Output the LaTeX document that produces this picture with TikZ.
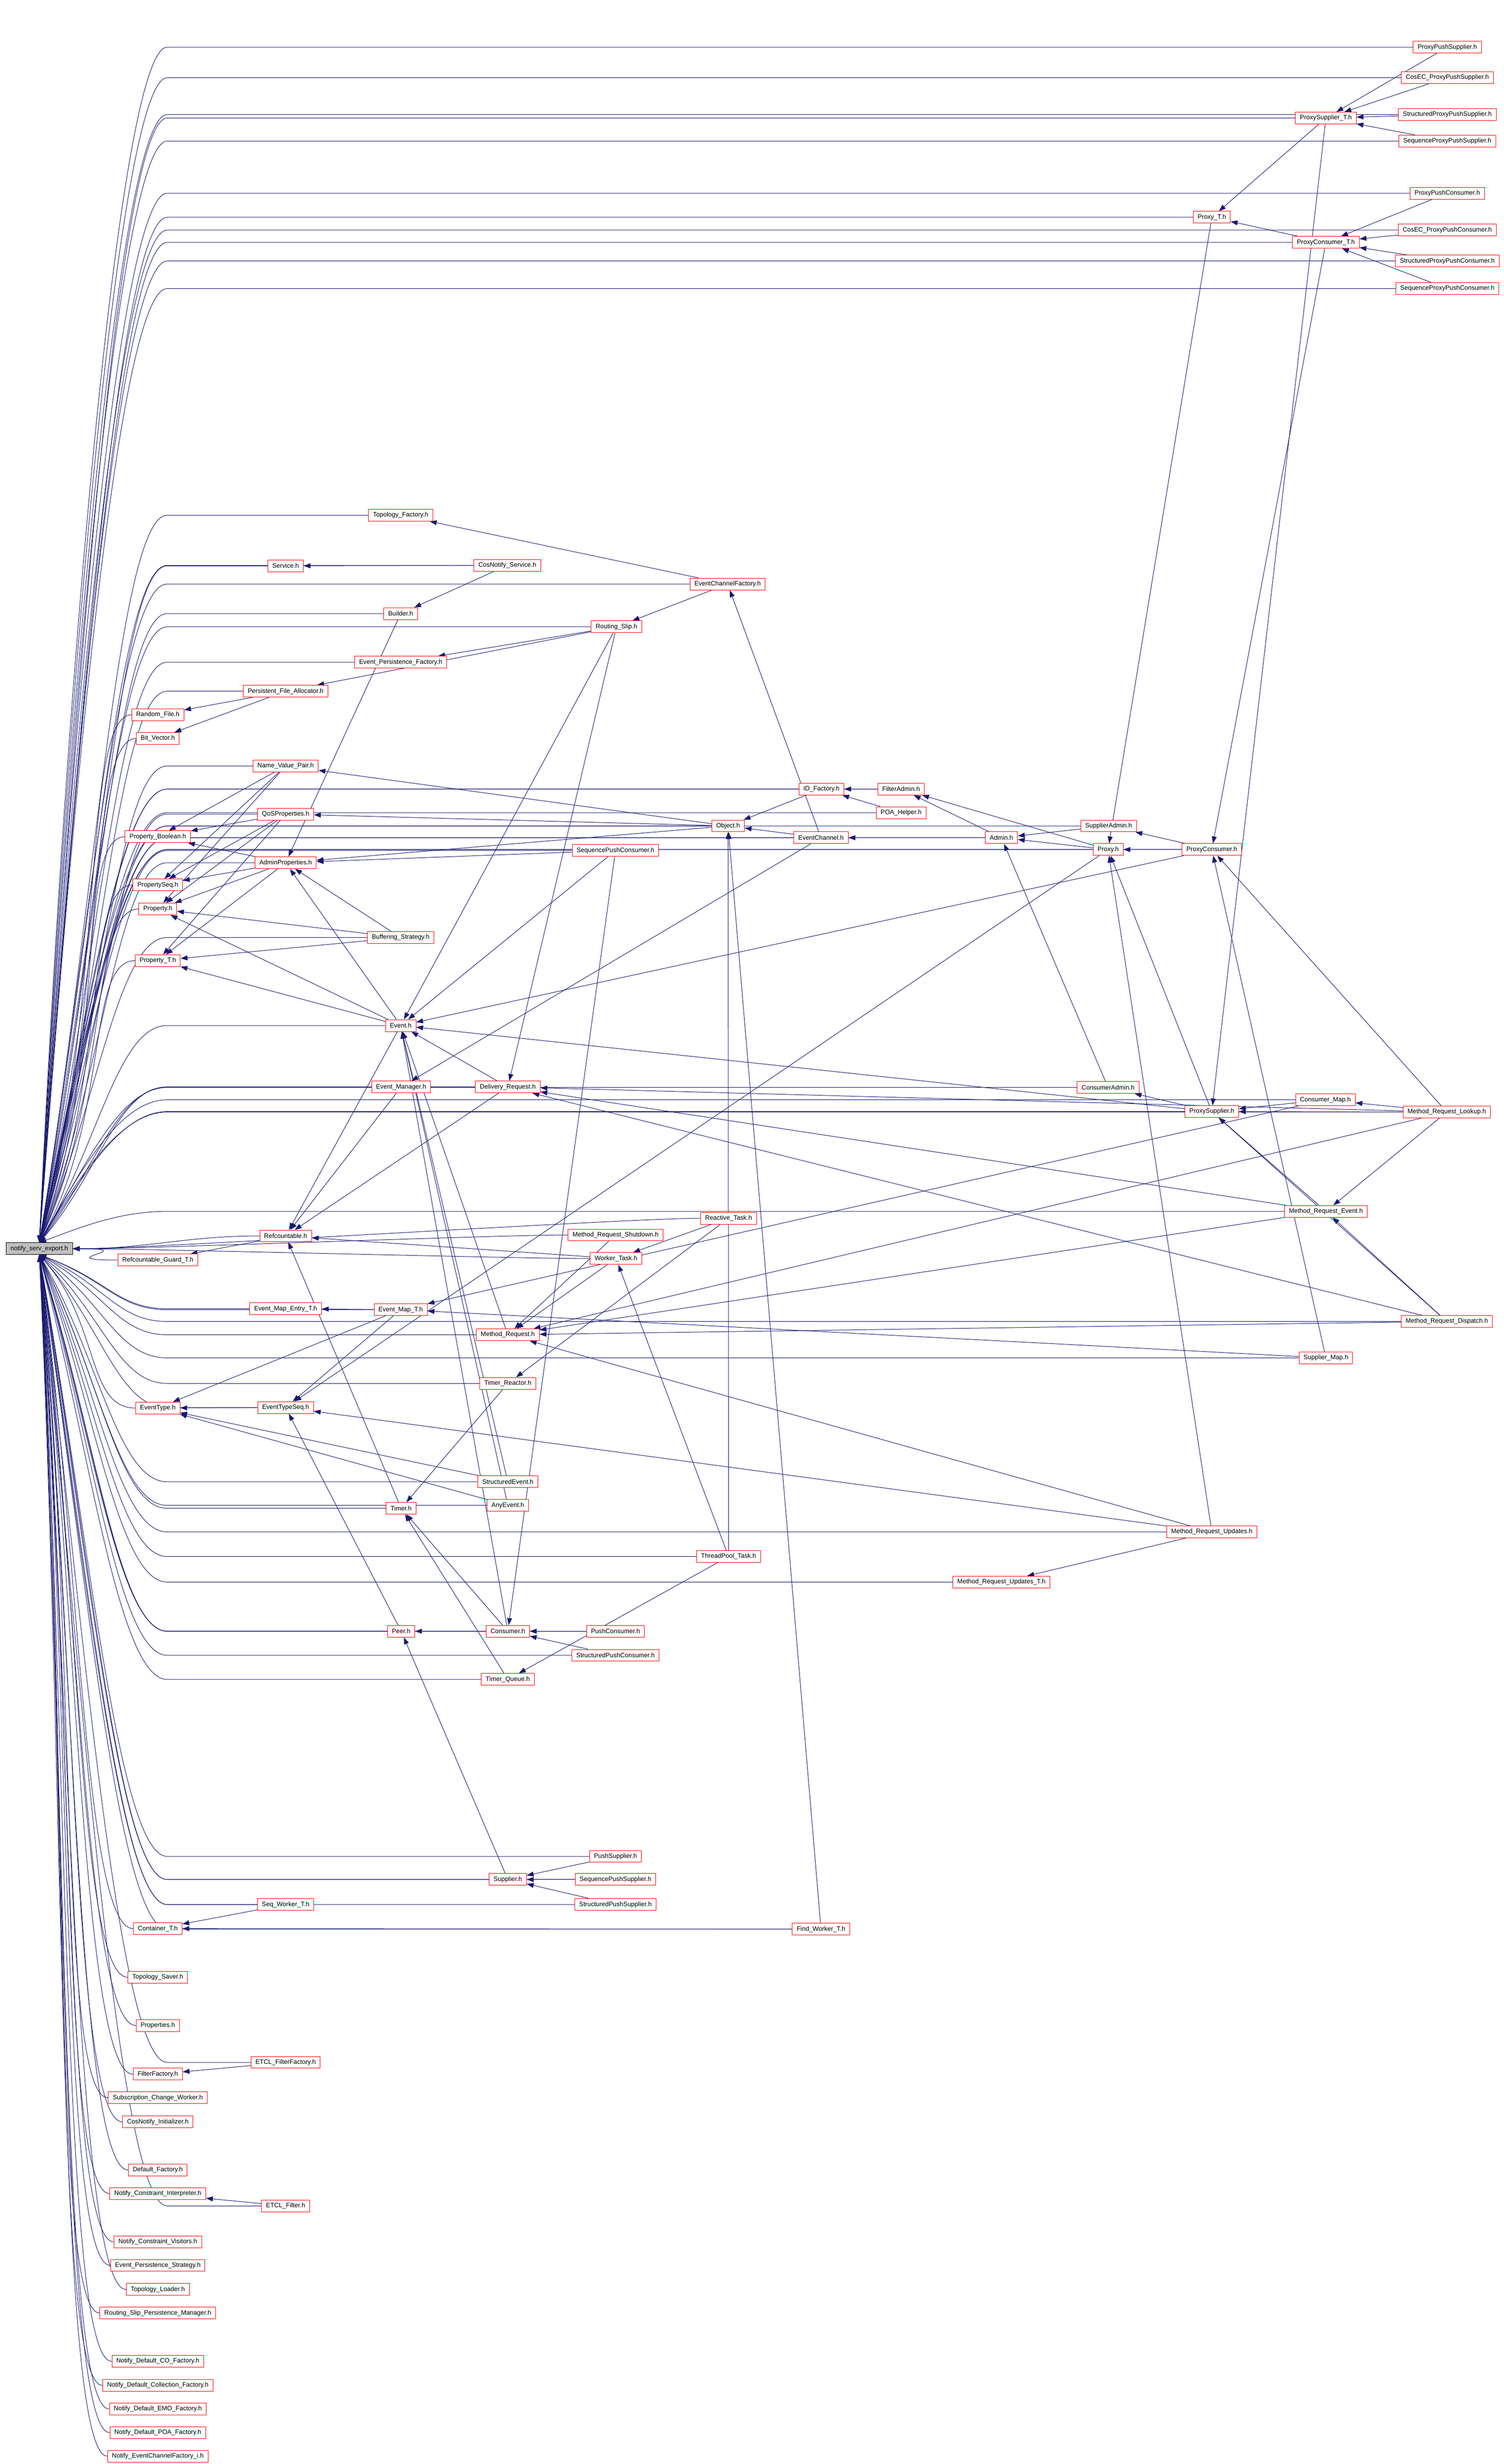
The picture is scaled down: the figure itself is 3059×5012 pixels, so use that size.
\documentclass[tikz,border=0pt]{standalone}
\usepackage{fontspec}
\setmainfont{Liberation Sans}
\usepackage{tikz}
\usetikzlibrary{arrows.meta,calc}
\definecolor{edgeblue}{RGB}{25,25,112}
\definecolor{boxred}{RGB}{255,0,0}
\definecolor{rootgray}{RGB}{191,191,191}
\pgfdeclarelayer{background}
\pgfsetlayers{background,main}
\tikzstyle{hfile} = [
    rectangle,
    draw=boxred,
    fill=white,
    line width=1pt,
    inner xsep=9pt,
    inner ysep=0pt,
    minimum height=24pt,
    font=\fontsize{13}{15}\selectfont
]
\tikzstyle{rootfile} = [
    hfile,
    draw=black,
    fill=rootgray
]
\tikzstyle{dep} = [
    draw=edgeblue,
    line width=1pt,
    -{Triangle[length=14pt,width=10pt]}
]

\begin{document}
\begin{tikzpicture}[x=1pt,y=-1pt]
    \useasboundingbox (0,0) rectangle (3059,5012);
    \node[rootfile] (root) at (80,2540) {notify\_serv\_export.h};

    % right column
    \node[hfile] (pps) at (2944,96) {ProxyPushSupplier.h};
    \node[hfile] (cpps) at (2944,158) {CosEC\_ProxyPushSupplier.h};
    \node[hfile] (spps) at (2944,233) {StructuredProxyPushSupplier.h};
    \node[hfile] (qpps) at (2944,287) {SequenceProxyPushSupplier.h};
    \node[hfile] (ppc) at (2944,393) {ProxyPushConsumer.h};
    \node[hfile] (cppc) at (2944,468) {CosEC\_ProxyPushConsumer.h};
    \node[hfile] (sppc) at (2944,531) {StructuredProxyPushConsumer.h};
    \node[hfile] (qppc) at (2944,587) {SequenceProxyPushConsumer.h};
    \node[hfile] (mrl) at (2943,2262) {Method\_Request\_Lookup.h};
    \node[hfile] (mrd) at (2943,2688) {Method\_Request\_Dispatch.h};

    \node[hfile] (pst) at (2697,240) {ProxySupplier\_T.h};
    \node[hfile] (pct) at (2697,493) {ProxyConsumer\_T.h};
    \node[hfile] (cmap) at (2696,2237) {Consumer\_Map.h};
    \node[hfile] (mre) at (2697,2464) {Method\_Request\_Event.h};
    \node[hfile] (smap) at (2697,2762) {Supplier\_Map.h};

    \node[hfile] (ptt) at (2465,442) {Proxy\_T.h};
    \node[hfile] (pcons) at (2465,1728) {ProxyConsumer.h};
    \node[hfile] (psup) at (2465,2261) {ProxySupplier.h};
    \node[hfile] (mru) at (2465,3116) {Method\_Request\_Updates.h};

    \node[hfile] (sadm) at (2255,1680) {SupplierAdmin.h};
    \node[hfile] (proxy) at (2254,1728) {Proxy.h};
    \node[hfile] (cadm) at (2254,2212) {ConsumerAdmin.h};

    \node[hfile] (admin) at (2037,1704) {Admin.h};
    \node[hfile] (mrut) at (2037,3218) {Method\_Request\_Updates\_T.h};

    \node[hfile] (fadm) at (1833,1605) {FilterAdmin.h};
    \node[hfile] (poa) at (1833,1653) {POA\_Helper.h};

    \node[hfile] (idf) at (1671,1605) {ID\_Factory.h};
    \node[hfile] (ech) at (1670,1704) {EventChannel.h};
    \node[hfile] (fwt) at (1670,3924) {Find\_Worker\_T.h};

    % middle columns
    \node[hfile] (ecf) at (1480,1188) {EventChannelFactory.h};
    \node[hfile] (obj) at (1481,1680) {Object.h};
    \node[hfile] (rtask) at (1482,2478) {Reactive\_Task.h};
    \node[hfile] (tpt) at (1482,3166) {ThreadPool\_Task.h};

    \node[hfile] (rslip) at (1254,1275) {Routing\_Slip.h};
    \node[hfile] (spc) at (1252,1730) {SequencePushConsumer.h};
    \node[hfile] (mrs) at (1252,2512) {Method\_Request\_Shutdown.h};
    \node[hfile] (wtask) at (1253,2560) {Worker\_Task.h};
    \node[hfile] (pushc) at (1252,3318) {PushConsumer.h};
    \node[hfile] (stpc) at (1252,3367) {StructuredPushConsumer.h};
    \node[hfile] (pushs) at (1252,3776) {PushSupplier.h};
    \node[hfile] (sqps) at (1252,3823) {SequencePushSupplier.h};
    \node[hfile] (stps) at (1252,3874) {StructuredPushSupplier.h};

    \node[hfile] (cns) at (1032,1150) {CosNotify\_Service.h};
    \node[hfile] (dreq) at (1033,2211) {Delivery\_Request.h};
    \node[hfile] (mreq) at (1033,2715) {Method\_Request.h};
    \node[hfile] (treac) at (1033,2814) {Timer\_Reactor.h};
    \node[hfile] (sev) at (1033,3014) {StructuredEvent.h};
    \node[hfile] (aev) at (1033,3062) {AnyEvent.h};
    \node[hfile] (cons) at (1033,3318) {Consumer.h};
    \node[hfile] (tq) at (1033,3416) {Timer\_Queue.h};
    \node[hfile] (supp) at (1033,3823) {Supplier.h};

    \node[hfile] (topf) at (815,1048) {Topology\_Factory.h};
    \node[hfile] (bld) at (815,1248) {Builder.h};
    \node[hfile] (epf) at (815,1347) {Event\_Persistence\_Factory.h};
    \node[hfile] (bstr) at (815,1907) {Buffering\_Strategy.h};
    \node[hfile] (event) at (815,2086) {Event.h};
    \node[hfile] (emgr) at (816,2211) {Event\_Manager.h};
    \node[hfile] (emap) at (815,2664) {Event\_Map\_T.h};
    \node[hfile] (timer) at (816,3068) {Timer.h};
    \node[hfile] (peer) at (816,3318) {Peer.h};

    \node[hfile] (serv) at (581,1151) {Service.h};
    \node[hfile] (pfa) at (581,1406) {Persistent\_File\_Allocator.h};
    \node[hfile] (nvp) at (581,1558) {Name\_Value\_Pair.h};
    \node[hfile] (qos) at (581,1656) {QoSProperties.h};
    \node[hfile] (aprop) at (581,1755) {AdminProperties.h};
    \node[hfile] (refc) at (581,2514) {Refcountable.h};
    \node[hfile] (emape) at (581,2662) {Event\_Map\_Entry\_T.h};
    \node[hfile] (etseq) at (581,2863) {EventTypeSeq.h};
    \node[hfile] (swt) at (581,3874) {Seq\_Worker\_T.h};
    \node[hfile] (etclff) at (581,4195) {ETCL\_FilterFactory.h};
    \node[hfile] (etclf) at (581,4487) {ETCL\_Filter.h};

    % left column
    \node[hfile] (rfile) at (321,1454) {Random\_File.h};
    \node[hfile] (bvec) at (321,1502) {Bit\_Vector.h};
    \node[hfile] (pbool) at (321,1702) {Property\_Boolean.h};
    \node[hfile] (pseq) at (321,1800) {PropertySeq.h};
    \node[hfile] (prop) at (321,1849) {Property.h};
    \node[hfile] (propt) at (321,1954) {Property\_T.h};
    \node[hfile] (rguard) at (321,2563) {Refcountable\_Guard\_T.h};
    \node[hfile] (etype) at (321,2864) {EventType.h};
    \node[hfile] (cont) at (321,3923) {Container\_T.h};
    \node[hfile] (tsav) at (321,4022) {Topology\_Saver.h};
    \node[hfile] (props) at (321,4120) {Properties.h};
    \node[hfile] (ffac) at (321,4219) {FilterFactory.h};
    \node[hfile] (scw) at (321,4267) {Subscription\_Change\_Worker.h};
    \node[hfile] (cni) at (321,4316) {CosNotify\_Initializer.h};
    \node[hfile] (dfac) at (321,4414) {Default\_Factory.h};
    \node[hfile] (nci) at (321,4462) {Notify\_Constraint\_Interpreter.h};
    \node[hfile] (ncv) at (321,4560) {Notify\_Constraint\_Visitors.h};
    \node[hfile] (eps) at (321,4608) {Event\_Persistence\_Strategy.h};
    \node[hfile] (tload) at (321,4657) {Topology\_Loader.h};
    \node[hfile] (rspm) at (321,4705) {Routing\_Slip\_Persistence\_Manager.h};
    \node[hfile] (ndco) at (321,4803) {Notify\_Default\_CO\_Factory.h};
    \node[hfile] (ndcf) at (321,4852) {Notify\_Default\_Collection\_Factory.h};
    \node[hfile] (ndemo) at (321,4900) {Notify\_Default\_EMO\_Factory.h};
    \node[hfile] (ndpoa) at (321,4948) {Notify\_Default\_POA\_Factory.h};
    \node[hfile] (necf) at (321,4996) {Notify\_EventChannelFactory\_i.h};

    \begin{pgfonlayer}{background}
        \fill[white] (0,0) rectangle (3059,5012);
        % every header includes the export header
        \foreach \h [count=\i] in {pps,cpps,spps,qpps,ppc,cppc,sppc,qppc,pst,pct,ptt,mrl,cmap,mre,pcons,psup,sadm,proxy,cadm,admin,fadm,poa,idf,ech,ecf,obj,rslip,spc,cns,dreq,topf,bld,epf,bstr,event,emgr,serv,pfa,nvp,qos,aprop,rfile,bvec,pbool,pseq,prop,propt}
            \draw[dep] let \p1=(\h.west), \p2=(root.north), \p3=({min(\x1,340pt)},\y1) in
                (\p1) -- (\p3) .. controls (\x3-100pt,\y1) and (\x2+50pt+2pt*\i,0.45*\y1+0.55*\y2) .. (\p2);
        \foreach \h [count=\i] in {necf,ndpoa,ndemo,ndcf,ndco,rspm,tload,eps,ncv,nci,dfac,cni,scw,ffac,props,tsav,cont,etclf,etclff,swt,fwt,stps,sqps,pushs,supp,tq,pushc,stpc,cons,peer,mrut,tpt,mru,aev,timer,sev,etype,etseq,treac,smap,mreq,mrd,emap,emape}
            \draw[dep] let \p1=(\h.west), \p2=(root.south), \p3=({min(\x1,340pt)},\y1) in
                (\p1) -- (\p3) .. controls (\x3-100pt,\y1) and (\x2+50pt+2pt*\i,0.45*\y1+0.55*\y2) .. (\p2);
        \foreach \h in {rtask,refc,mrs,wtask,rguard}
            \draw[dep] (\h.west) .. controls +(-150,0) and +(150,0) .. (root.east);

        % includes between the other headers
        \foreach \a/\b in {pps/pst,cpps/pst,spps/pst,qpps/pst,ppc/pct,cppc/pct,sppc/pct,qppc/pct,
                pst/ptt,pct/ptt,pst/psup,pct/pcons,ptt/proxy,
                fadm/idf,poa/idf,idf/obj,ech/obj,admin/ech,admin/fadm,proxy/fadm,
                sadm/admin,proxy/admin,cadm/admin,pcons/proxy,pcons/sadm,psup/proxy,mru/proxy,
                psup/cadm,cmap/psup,mrl/psup,mrl/cmap,mrl/mre,mre/psup,mrd/psup,mrd/mre,
                smap/pcons,mrl/pcons,tpt/obj,fwt/obj,
                cns/serv,cns/bld,ecf/topf,rslip/epf,rslip/pfa,pfa/rfile,pfa/bvec,bld/aprop,
                nvp/pbool,nvp/pseq,nvp/prop,qos/pbool,qos/pseq,qos/prop,qos/propt,
                aprop/pbool,aprop/pseq,aprop/prop,aprop/propt,
                obj/qos,obj/nvp,obj/aprop,spc/aprop,bstr/aprop,event/aprop,
                bstr/propt,bstr/prop,event/prop,event/propt,
                event/refc,emgr/refc,timer/refc,wtask/refc,dreq/refc,ech/emgr,refc/rguard,
                emap/emape,cmap/emap,smap/emap,emap/etseq,emap/etype,
                etseq/etype,peer/etseq,proxy/etseq,mru/etseq,sev/etype,aev/etype,
                rslip/dreq,mre/dreq,mrd/dreq,mrl/dreq,
                rtask/wtask,rtask/treac,mrs/mreq,wtask/mreq,tpt/wtask,
                mre/mreq,mrd/mreq,mru/mreq,mrl/mreq,
                mreq/event,rslip/event,sev/event,aev/event,cons/event,dreq/event,psup/event,pcons/event,spc/event,
                pushc/cons,stpc/cons,spc/cons,cons/peer,supp/peer,
                tpt/tq,tq/timer,cons/timer,treac/timer,
                pushs/supp,sqps/supp,stps/supp,mru/mrut,ech/ecf,ecf/rslip,
                swt/cont,fwt/cont,etclff/ffac,etclf/nci}
            \draw[dep] (\a) -- (\b);
    \end{pgfonlayer}
\end{tikzpicture}
\end{document}
